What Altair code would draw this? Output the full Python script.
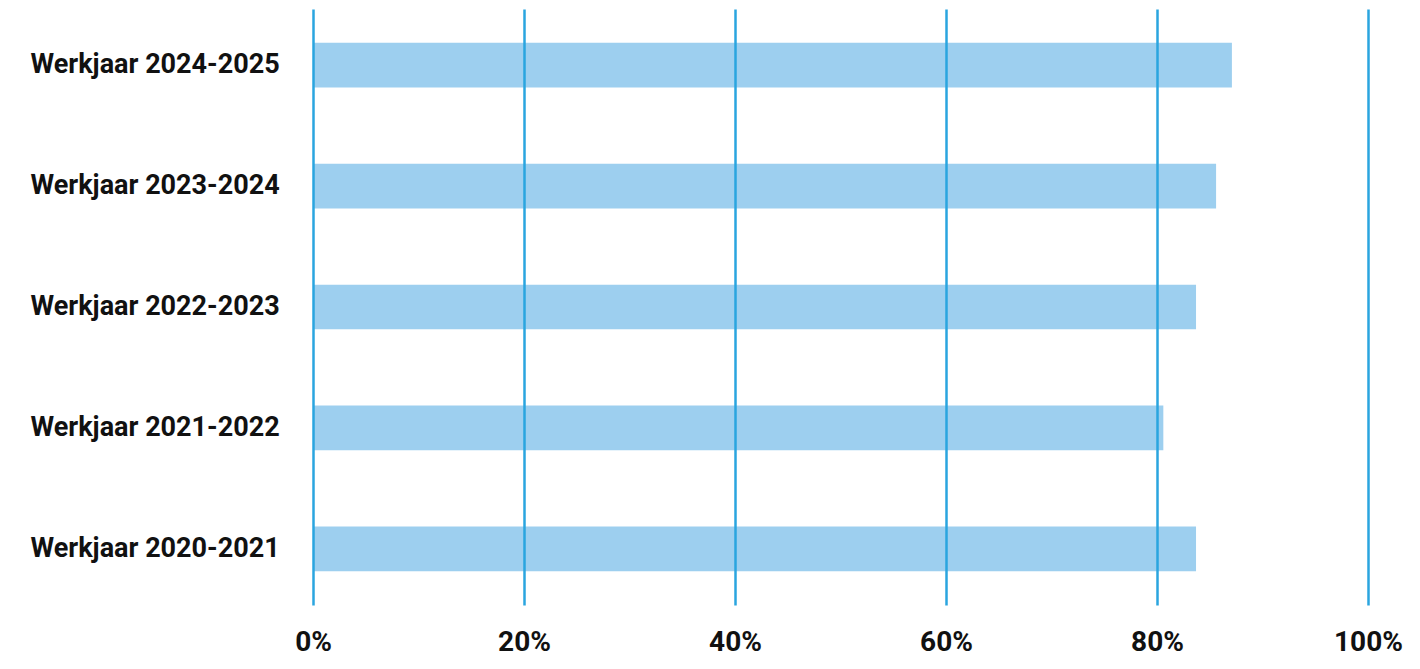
import altair as alt
import pandas as pd

categories = ["Werkjaar 2024-2025", "Werkjaar 2023-2024", "Werkjaar 2022-2023",
              "Werkjaar 2021-2022", "Werkjaar 2020-2021"]
values = [0.871, 0.856, 0.837, 0.806, 0.837]
ticks = [0, 0.2, 0.4, 0.6, 0.8, 1.0]

df = pd.DataFrame({"jaar": categories, "waarde": values})

chart = alt.Chart(df).mark_bar(color="#9dcfef").encode(
    x=alt.X("waarde:Q",
            scale=alt.Scale(domain=[0, 1], nice=False, zero=True),
            axis=alt.Axis(values=ticks, format=".0%", title=None, domain=False,
                          ticks=False, grid=True, gridColor="#2aa5df", gridWidth=2.5,
                          gridOpacity=1, labelFont="Roboto", labelFontWeight="bold",
                          labelFontSize=28, labelColor="#111111", labelPadding=23,
                          labelFlush=False, zindex=1)),
    y=alt.Y("jaar:N", sort=categories,
            scale=alt.Scale(paddingInner=0.63, paddingOuter=0.28),
            axis=alt.Axis(title=None, domain=False, ticks=False, labelAlign="left",
                          labelPadding=283, labelFont="Roboto", labelFontWeight="bold",
                          labelFontSize=27, labelColor="#111111", labelLimit=400)),
).properties(
    width=1055, height=596,
    autosize=alt.AutoSizeParams(type="none"),
    padding={"left": 305, "top": 1, "right": 40, "bottom": 60},
).configure_view(stroke=None)

chart.save("out.html", embed_options={"renderer": "svg", "actions": False})
